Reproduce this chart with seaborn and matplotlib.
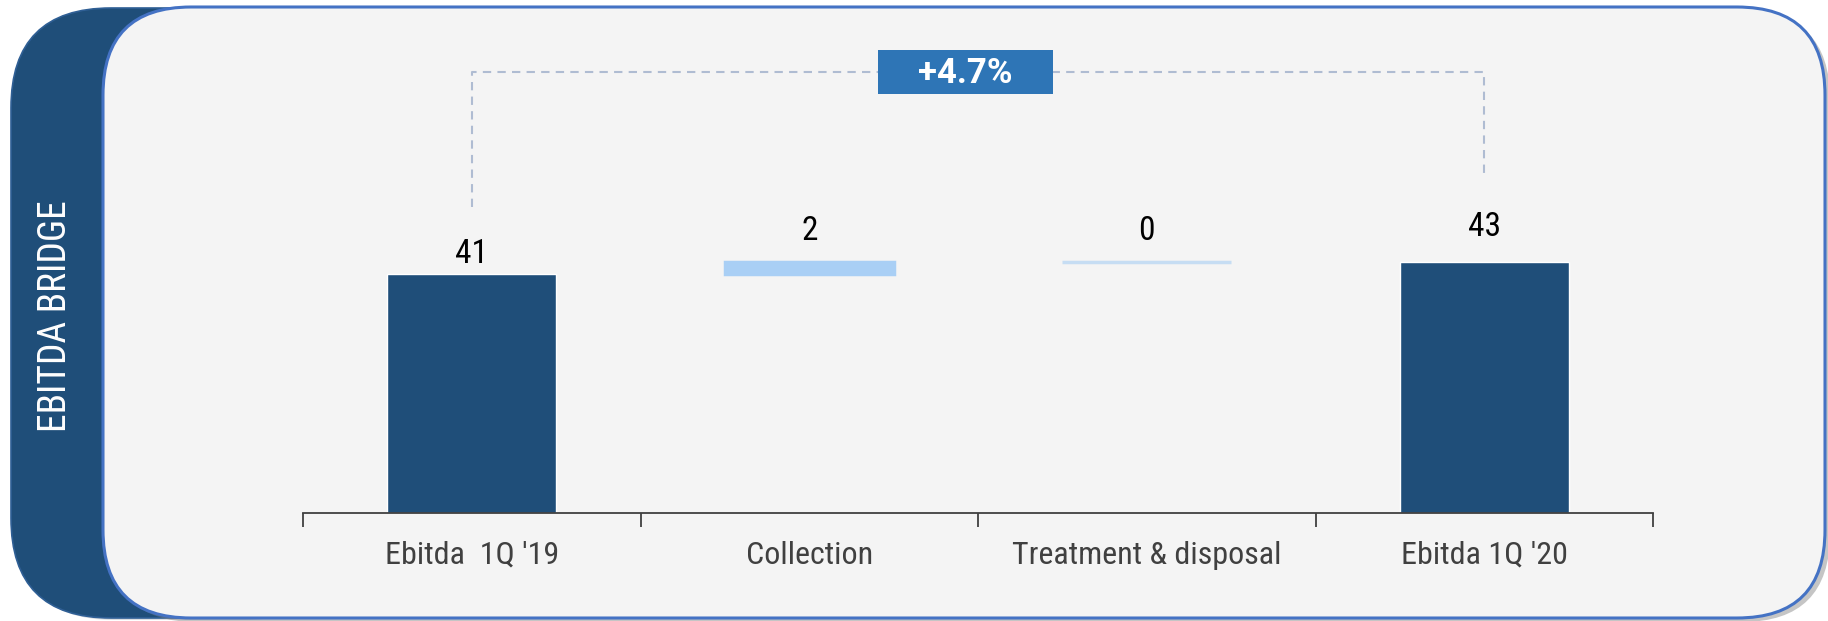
import numpy as np
import pandas as pd
import matplotlib
matplotlib.use("Agg")
import matplotlib.pyplot as plt
from matplotlib.patches import FancyBboxPatch, Rectangle
import seaborn as sns

# ---- data -------------------------------------------------------------
categories = ["Ebitda  1Q '19", "Collection", "Treatment & disposal", "Ebitda 1Q '20"]
values = [41, 2, 0, 43]
kinds = ["total", "step", "step", "total"]
change_label = "+4.7%"
panel_title = "EBITDA BRIDGE"

# ---- style ------------------------------------------------------------
NAVY = "#1F4E79"
STEP_COLORS = ["#A9CFF5", "#C6DDF3"]
PANEL = "#F4F4F4"
BORDER = "#4472C4"
BRACKET = "#AFBCD2"
BADGE = "#2E75B6"
AXIS_GREY = "#404040"

sns.set_theme(style="white")
NARROW = ["Liberation Sans Narrow", "Roboto Condensed", "Liberation Sans", "DejaVu Sans"]
plt.rcParams["font.family"] = NARROW

W, H = 1828, 621
fig = plt.figure(figsize=(W / 100, H / 100), dpi=100)
fig.patch.set_facecolor("white")

# ---- decorative background (pixel coordinates) -------------------------
bg = fig.add_axes([0, 0, 1, 1], zorder=0)
bg.set_xlim(0, W)
bg.set_ylim(H, 0)
bg.axis("off")

# dark side tab
bg.add_patch(FancyBboxPatch((14, 10), 330, 610, boxstyle="round,pad=0,rounding_size=100",
                            facecolor="#9aa3ad", edgecolor="none", alpha=0.35))
bg.add_patch(FancyBboxPatch((11, 8), 330, 610, boxstyle="round,pad=0,rounding_size=100",
                            facecolor=NAVY, edgecolor="#2F5F95", linewidth=1.2))
bg.text(56, 316, panel_title, rotation=90, ha="center", va="center",
        color="white", fontsize=27, family=NARROW)

# main panel with soft shadow
bg.add_patch(FancyBboxPatch((108, 11), 1722, 611, boxstyle="round,pad=0,rounding_size=88",
                            facecolor="#7f7f7f", edgecolor="none", alpha=0.45))
bg.add_patch(FancyBboxPatch((103, 7), 1722, 611, boxstyle="round,pad=0,rounding_size=88",
                            facecolor=PANEL, edgecolor=BORDER, linewidth=2.2))

# ---- waterfall chart --------------------------------------------------
ax = fig.add_axes([303 / W, 108 / H, 1350 / W, 466.4 / H], zorder=2)
ax.set_facecolor("none")

df = pd.DataFrame({"category": categories, "value": values, "kind": kinds})
totals = df[df["kind"] == "total"]
sns.barplot(data=totals, x="category", y="value", order=categories,
            color=NAVY, saturation=1, width=0.5, ax=ax, zorder=2)

# floating steps start where the running total stands
running = []
level = 0
for v, k in zip(values, kinds):
    if k == "total":
        level = v
        running.append(0)
    else:
        running.append(level)
        level += v
step_idx = [i for i, k in enumerate(kinds) if k == "step"]
ax.bar(step_idx, [values[i] for i in step_idx], bottom=[running[i] for i in step_idx],
       width=0.5, color=STEP_COLORS, edgecolor=STEP_COLORS, linewidth=2.5, zorder=2)

# value labels
label_gap = [1.9, 3.8, 3.8, 4.5]
for i, v in enumerate(values):
    top = running[i] + v
    ax.text(i, top + label_gap[i], f"{v}", ha="center", va="baseline",
            fontsize=24, color="black", family=NARROW)

# bracket with change badge
bracket_y = 75.6
left_end, right_end = 52.5, 58.4
dash = dict(color=BRACKET, linewidth=1.5, linestyle=(0, (4, 3)), zorder=1)
ax.plot([0, 0, 3, 3], [left_end, bracket_y, bracket_y, right_end], **dash)
badge_x, badge_w, badge_h = 1.463, 0.518, 7.5
ax.add_patch(Rectangle((badge_x - badge_w / 2, bracket_y - badge_h / 2), badge_w, badge_h,
                       facecolor=BADGE, edgecolor="none", zorder=3))
ax.text(badge_x, bracket_y - 0.2, change_label, ha="center", va="center", color="white",
        fontsize=25, fontweight="bold", family=["Roboto", "DejaVu Sans"], zorder=4)

# axes cosmetics
ax.set_xlim(-0.5, 3.5)
ax.set_ylim(0, 80)
ax.set_xlabel("")
ax.set_ylabel("")
ax.set_yticks([])
for side in ["top", "right", "left"]:
    ax.spines[side].set_visible(False)
ax.spines["bottom"].set_color(AXIS_GREY)
ax.spines["bottom"].set_linewidth(1.3)
ax.set_xticks(range(len(categories)))
ax.set_xticklabels(categories, fontsize=23, color=AXIS_GREY)
ax.tick_params(axis="x", which="major", length=0, pad=20)
ax.set_xticks(np.arange(-0.5, len(categories), 1.0), minor=True)
ax.tick_params(axis="x", which="minor", bottom=True, length=10, width=1.3,
               color=AXIS_GREY, direction="out")

fig.savefig("out.png", dpi=100, facecolor="white")
